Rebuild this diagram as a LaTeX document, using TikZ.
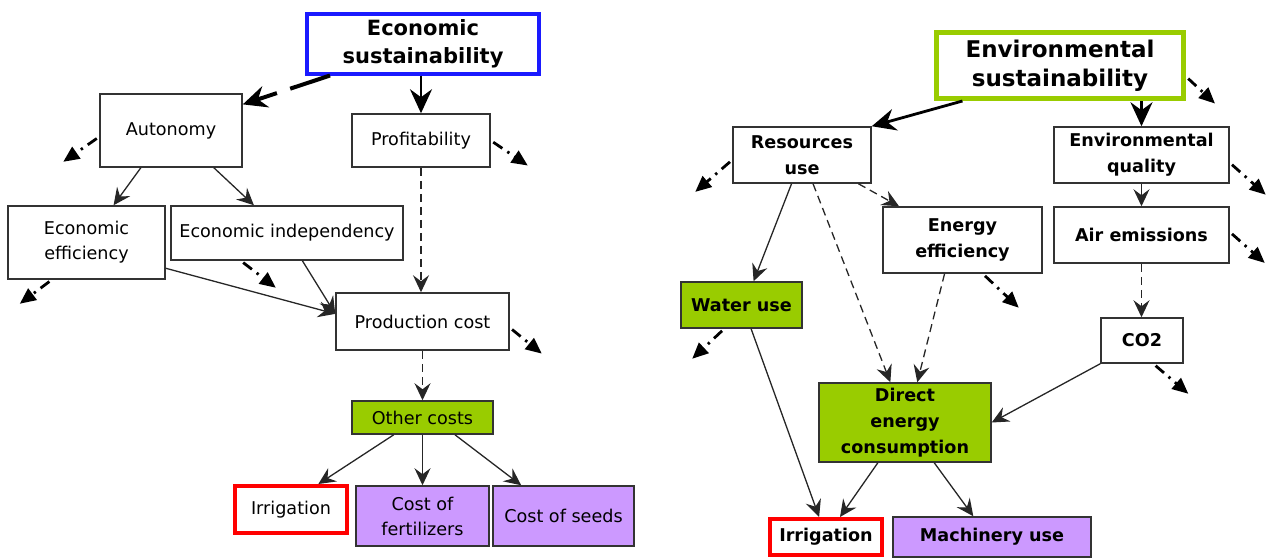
\documentclass[tikz,border=0pt]{standalone}
\usepackage{fontspec}
\setmainfont{DejaVu Sans}
\usetikzlibrary{
  arrows.meta,
  calc
}
\definecolor{ecoblue}{RGB}{26,26,255}
\definecolor{leafgreen}{RGB}{153,204,0}
\definecolor{lilac}{RGB}{204,153,255}
\definecolor{alertred}{RGB}{255,0,0}
\tikzset{
  >={Stealth[length=8.5pt,width=8pt,inset=3pt]},
  flow/.style={->,line width=0.65pt,draw=black!85},
  dashed flow/.style={flow,dash pattern=on 4pt off 2.5pt},
  main flow/.style={-{Stealth[length=12pt,width=11pt,inset=4pt]},line width=1.4pt},
  main dashed flow/.style={main flow,line width=2pt,dash pattern=on 21pt off 7pt},
  stub/.style={
    -{Triangle[length=8pt,width=7pt]},
    line width=1.4pt,
    dash pattern=on 5.5pt off 3pt on 1.2pt off 3pt,
    shorten <=1.5pt
  },
  box/.style={
    draw=black!80,
    line width=0.75pt,
    fill=white,
    align=center,
    inner sep=0pt,
    font=\fontsize{8.8}{12.5}\selectfont
  },
  bold box/.style={box,font=\bfseries\fontsize{8.8}{13}\selectfont},
  head box/.style={box,line width=2pt,font=\bfseries\fontsize{10.5}{14}\selectfont},
  red box/.style={draw=alertred,line width=2pt}
}
\newcommand{\boxnode}[6][]{%
  \node[box,#1,minimum width={#4*0.5pt},minimum height={#5*0.5pt}] (#2) at (#3) {#6};%
}

\begin{document}
\begin{tikzpicture}[x=0.5pt,y=-0.5pt]
  \useasboundingbox (0,0) rectangle (1266,558);

  % Economic side.
  \boxnode[head box,draw=ecoblue]{ecosus}{423,43.5}{232}{60}{Economic\\sustainability}
  \boxnode{autonomy}{171,130.5}{142}{73}{Autonomy}
  \boxnode{profit}{421,140.5}{138}{53}{Profitability}
  \boxnode{effic}{86.5,242.5}{157}{73}{Economic\\efficiency}
  \boxnode{indep}{287,233}{232}{54}{Economic independency}
  \boxnode{prodcost}{422.5,321.5}{173}{57}{Production cost}
  \boxnode[fill=leafgreen]{othercost}{422.5,417.5}{141}{33}{Other costs}
  \boxnode[red box]{irrigL}{291,509.5}{112}{47}{Irrigation}
  \boxnode[fill=lilac]{fert}{422.5,516}{133}{60}{Cost of\\fertilizers}
  \boxnode[fill=lilac]{seeds}{563.5,516}{141}{60}{Cost of seeds}

  \draw[main dashed flow] (ecosus.199) -- (autonomy.20);
  \draw[main flow] (profit.north |- ecosus.south) -- (profit.north);
  \draw[flow] (autonomy.231) -- (effic.54);
  \draw[flow] (autonomy.319) -- (indep.140);
  \draw[dashed flow] (profit.south) -- (profit.south |- prodcost.north);
  \draw[flow] (effic.342) -- (prodcost.175);
  \draw[flow] (indep.299) -- (prodcost.175);
  \draw[dashed flow] (prodcost.south) -- (othercost.north);
  \draw[flow] (othercost.211) -- (irrigL.43);
  \draw[flow] (othercost.south) -- (fert.north);
  \draw[flow] (othercost.332) -- (seeds.144);

  % Environmental side.
  \boxnode[head box,draw=leafgreen,line width=2.5pt,
    font=\bfseries\fontsize{11.5}{14.5}\selectfont]{envsus}{1060,65.5}{247}{66}{Environmental\\sustainability}
  \boxnode[bold box]{resources}{802,155}{138}{56}{Resources\\use}
  \boxnode[bold box]{envqual}{1141.5,155}{175}{56}{Environmental\\quality}
  \boxnode[bold box]{energyeff}{962.5,240}{159}{66}{Energy\\efficiency}
  \boxnode[bold box]{air}{1141.5,235}{175}{56}{Air emissions}
  \boxnode[bold box,fill=leafgreen]{water}{741.5,305}{121}{46}{Water use}
  \boxnode[bold box]{co2}{1142,340.5}{82}{45}{CO2}
  \boxnode[bold box,fill=leafgreen]{direct}{905,422.5}{172}{79}{Direct\\energy\\consumption}
  \boxnode[bold box,red box]{irrigR}{826,537}{112}{36}{Irrigation}
  \boxnode[bold box,fill=lilac]{machinery}{992,537}{198}{40}{Machinery use}

  \draw[main flow] (envsus.200) -- (resources.north east);
  \draw[main flow] (envqual.north |- envsus.south) -- (envqual.north);
  \draw[flow] (envqual.south) -- (air.north);
  \draw[dashed flow] (air.south) -- (air.south |- co2.north);
  \draw[flow] (co2.south west) -- (direct.east);
  \draw[flow] (resources.250) -- (water.63);
  \draw[dashed flow] (resources.291) -- (direct.110);
  \draw[dashed flow] (resources.333) -- (energyeff.152);
  \draw[dashed flow] (energyeff.242) -- (direct.73);
  \draw[flow] (water.292) -- (irrigR.109);
  \draw[flow] (direct.236) -- (irrigR.55);
  \draw[flow] (direct.306) -- (machinery.132);

  % Dash-dot stubs towards the rest of the tree.
  \foreach \nd/\a/\dx/\dy in {
    autonomy/185/-36/25, profit/0/37/25, effic/227/-32/24,
    indep/211/35/27, prodcost/356/32/26, envsus/355/29/27,
    resources/184/-37/32, envqual/355/36/32, air/2/35/31,
    energyeff/301/36/34, water/234/-32/30, co2/296/35/30
  } {
    \coordinate (\nd-out) at ($(\nd.\a)+(\dx,\dy)$);
    \draw[stub] (\nd.\a) -- (\nd-out);
  }
\end{tikzpicture}
\end{document}
